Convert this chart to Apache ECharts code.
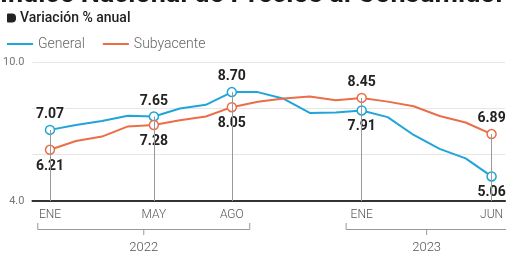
<!DOCTYPE html>
<html>
<head>
<meta charset="utf-8">
<script src="https://cdn.jsdelivr.net/npm/echarts@6/dist/echarts.min.js"></script>
<style>
html, body { margin: 0; padding: 0; background: #fff; }
#main { width: 506px; height: 254px; }
</style>
</head>
<body>
<div id="main"></div>
<script>
var months = ['ENE','FEB','MAR','ABR','MAY','JUN','JUL','AGO','SEP','OCT','NOV','DIC','ENE','FEB','MAR','ABR','MAY','JUN'];
var general = [7.07,7.28,7.45,7.68,7.65,7.99,8.15,8.70,8.70,8.41,7.80,7.82,7.91,7.62,6.85,6.25,5.84,5.06];
var subyacente = [6.21,6.59,6.78,7.22,7.28,7.49,7.65,8.05,8.28,8.42,8.51,8.35,8.45,8.29,8.09,7.67,7.39,6.89];
var labelIdx = [0,4,7,12,17];
var generalPos = ['top','top','top','bottom','bottom'];
var subPos = ['bottom','bottom','bottom','top','top'];
var years = ['2022','2023'];
var yearSpans = [[-0.47,7.69],[11.4,17.6]];
var yTicks = [4,10];

var cGeneral = '#1fa5d8';
var cSub = '#ea6e48';
var font = 'Roboto';

function buildData(values, positions, color) {
  var out = [];
  for (var i = 0; i < values.length; i++) {
    var k = labelIdx.indexOf(i);
    if (k < 0) {
      out.push({ value: [i, values[i]], symbol: 'none' });
    } else {
      out.push({
        value: [i, values[i]],
        symbol: 'circle',
        symbolSize: 9,
        itemStyle: { color: '#fff', borderColor: color, borderWidth: 1.5 },
        label: { show: true, position: positions[k] }
      });
    }
  }
  return out;
}

// drop lines from the higher point to the axis
var drops = [];
for (var j = 0; j < labelIdx.length; j++) {
  var ix = labelIdx[j];
  drops.push([{ coord: [ix, 4] }, { coord: [ix, Math.max(general[ix], subyacente[ix])] }]);
}

var chart = echarts.init(document.getElementById('main'));

chart.setOption({
  animation: false,
  textStyle: { fontFamily: font },
  title: [{
    text: 'Índice Nacional de Precios al Consumidor',
    left: 0, top: -18, padding: 0,
    textStyle: { fontSize: 27, fontWeight: 'bold', color: '#1a1a1a', fontFamily: font }
  }, {
    text: '{m|}{t|Variación % anual}',
    left: 7, top: 11, padding: 0,
    textStyle: {
      rich: {
        m: { width: 9, height: 9, backgroundColor: '#222', borderRadius: [1, 4, 4, 1] },
        t: { fontSize: 14, fontWeight: 500, color: '#222', padding: [0, 0, 0, 4], fontFamily: font }
      }
    }
  }],
  legend: {
    data: ['General', 'Subyacente'],
    left: 7, top: 37, padding: 0,
    icon: 'rect', itemWidth: 26, itemHeight: 2, itemGap: 18,
    textStyle: { fontSize: 14, color: '#666', fontWeight: 300, fontFamily: font }
  },
  grid: { left: 29, right: 0, top: 62, bottom: 50 },
  xAxis: [{
    type: 'value',
    min: -0.675, max: 17.52,
    splitLine: { show: false },
    axisTick: { show: false },
    axisLine: { show: true, lineStyle: { color: '#333', width: 2 } },
    axisLabel: {
      customValues: labelIdx,
      formatter: function (v) { return months[Math.round(v)]; },
      fontSize: 12, color: '#555', fontWeight: 300, margin: 8
    }
  }, {
    type: 'value',
    position: 'bottom',
    offset: 33,
    min: -0.675, max: 17.52,
    splitLine: { show: false },
    axisTick: { show: false },
    axisLine: { show: false },
    axisLabel: {
      customValues: [(yearSpans[0][0] + yearSpans[0][1]) / 2, (yearSpans[1][0] + yearSpans[1][1]) / 2],
      formatter: function (v) { return v < 10 ? years[0] : years[1]; },
      fontSize: 13, color: '#555', fontWeight: 300, margin: 7
    }
  }],
  yAxis: {
    type: 'value',
    min: 4, max: 10, interval: 2,
    axisLine: { show: false },
    axisTick: { show: false },
    splitLine: { lineStyle: { color: '#e6e6e6', width: 1 } },
    axisLabel: {
      formatter: function (v) { return yTicks.indexOf(v) >= 0 ? v.toFixed(1) : ''; },
      fontSize: 11, color: '#777', margin: 8
    }
  },
  series: [{
    type: 'line',
    name: 'drops',
    data: [],
    z: 1,
    markLine: {
      silent: true,
      symbol: 'none',
      label: { show: false },
      lineStyle: { color: '#999', width: 1, type: 'solid' },
      data: drops
    }
  }, {
    type: 'line',
    name: 'General',
    z: 3,
    data: buildData(general, generalPos, cGeneral),
    lineStyle: { color: cGeneral, width: 2 },
    itemStyle: { color: cGeneral },
    label: {
      fontSize: 14, fontWeight: 'bold', color: '#222', distance: 3,
      backgroundColor: '#fff', padding: [1, 1, 0, 1],
      formatter: function (p) { return p.value[1].toFixed(2); }
    }
  }, {
    type: 'line',
    name: 'Subyacente',
    z: 3,
    data: buildData(subyacente, subPos, cSub),
    lineStyle: { color: cSub, width: 2 },
    itemStyle: { color: cSub },
    label: {
      fontSize: 14, fontWeight: 'bold', color: '#222', distance: 3,
      backgroundColor: '#fff', padding: [1, 1, 0, 1],
      formatter: function (p) { return p.value[1].toFixed(2); }
    }
  }]
});

// year brackets under the month labels
var graphics = [];
for (var y = 0; y < yearSpans.length; y++) {
  var xa = chart.convertToPixel({ xAxisIndex: 0 }, yearSpans[y][0]);
  var xb = chart.convertToPixel({ xAxisIndex: 0 }, yearSpans[y][1]);
  var xc = (xa + xb) / 2;
  graphics.push({
    type: 'polyline', silent: true,
    shape: { points: [[xa, 223], [xa, 229.5], [xb, 229.5], [xb, 223]] },
    style: { stroke: '#999', lineWidth: 1, fill: null }
  });
  graphics.push({
    type: 'line', silent: true,
    shape: { x1: xc, y1: 229.5, x2: xc, y2: 235 },
    style: { stroke: '#999', lineWidth: 1 }
  });
}
chart.setOption({ graphic: graphics });
</script>
</body>
</html>
